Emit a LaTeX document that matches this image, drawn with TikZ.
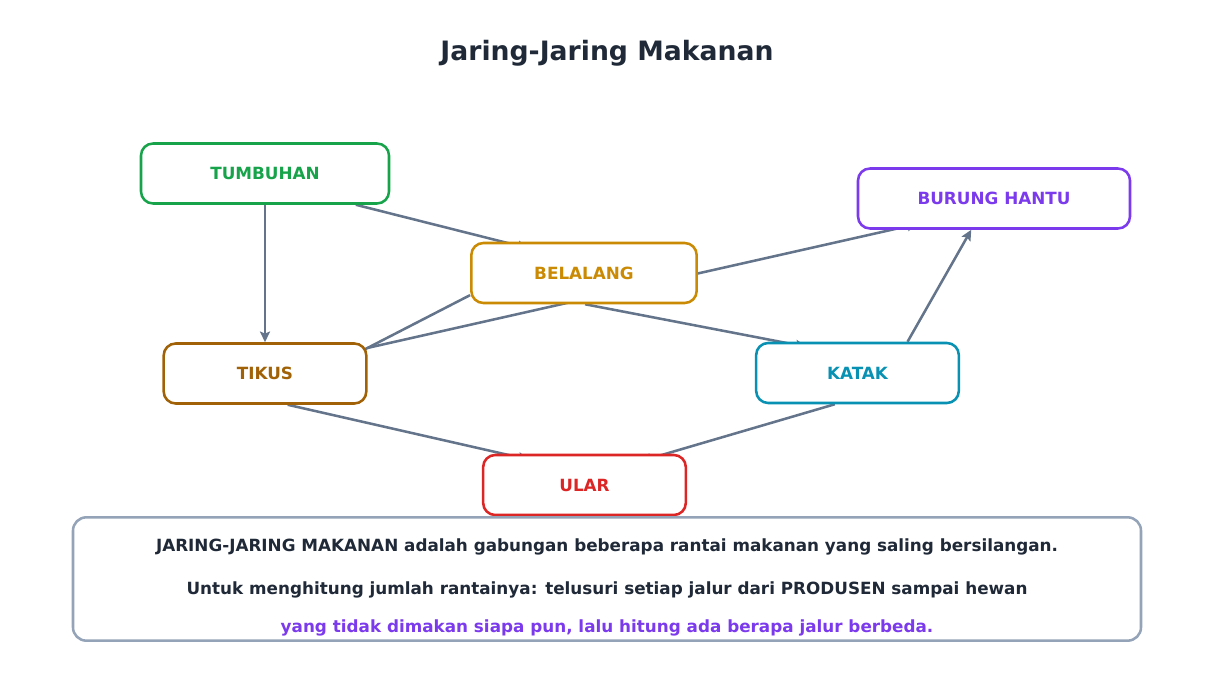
\documentclass[tikz,border=0pt]{standalone}
\usepackage{fontspec}
\setmainfont{DejaVu Sans}
\usetikzlibrary{shapes, arrows.meta, positioning, calc, backgrounds}
\definecolor{judul}{HTML}{1F2937}
\definecolor{hijau}{HTML}{16A34A}
\definecolor{kuning}{HTML}{CA8A04}
\definecolor{coklat}{HTML}{A16207}
\definecolor{tosca}{HTML}{0891B2}
\definecolor{ungu}{HTML}{7C3AED}
\definecolor{merah}{HTML}{DC2626}
\definecolor{garis}{HTML}{64748B}
\definecolor{abu}{HTML}{94A3B8}

\begin{document}
\begin{tikzpicture}[x=0.75pt, y=-0.75pt, node distance=150pt,
    kotak/.style={rectangle, draw, fill=white, rounded corners=9pt, line width=1.9pt, minimum height=45pt, font=\bfseries\fontsize{12.6}{15}\selectfont},
    teks/.style={font=\bfseries\fontsize{12.6}{15}\selectfont, text=judul},
    panah/.style={-{Stealth[length=8pt, width=7.5pt, inset=1.5pt]}, line width=1.9pt, draw=garis},
    tertutup/.style={panah, shorten >=-20pt}]
        \useasboundingbox (0,0) rectangle (1214,698);
        \node[font=\bfseries\fontsize{20}{24}\selectfont, text=judul] (title) at (607,53) {Jaring-Jaring Makanan};

        \node[kotak, draw=hijau, text=hijau, minimum width=186pt] (tumbuhan) at (265,173.5) {TUMBUHAN};
        \node[kotak, draw=coklat, text=coklat, minimum width=152pt, below of=tumbuhan] (tikus) {TIKUS};
        \node[kotak, draw=kuning, text=kuning, minimum width=169pt] (belalang) at (584,273) {BELALANG};
        \node[kotak, draw=ungu, text=ungu, minimum width=204pt] (burung) at (994,198.5) {BURUNG HANTU};
        \node[kotak, draw=tosca, text=tosca, minimum width=152pt] (katak) at (857.5,373) {KATAK};
        \node[kotak, draw=merah, text=merah, minimum width=152pt] (ular) at (584.5,485) {ULAR};

        \node[rectangle, draw=abu, fill=white, rounded corners=10pt, line width=1.9pt, minimum width=801pt, minimum height=92.5pt] (catatan) at (607,579) {};
        \node[teks] (baris1) at (607,547) {JARING-JARING MAKANAN adalah gabungan beberapa rantai makanan yang saling bersilangan.};
        \node[teks] (baris2) at (607,590) {Untuk menghitung jumlah rantainya: telusuri setiap jalur dari PRODUSEN sampai hewan};
        \node[teks, text=ungu] (baris3) at (607,628) {yang tidak dimakan siapa pun, lalu hitung ada berapa jalur berbeda.};

        \begin{scope}[on background layer]
        \draw[panah] (tumbuhan.south) -- (tikus.north);
        \draw[tertutup] (tumbuhan.-19) -- (belalang.159);
        \draw[tertutup] (belalang.191) -- (tikus.14);
        \draw[tertutup] (tikus.14) -- (burung.197);
        \draw[tertutup] (belalang.-88) -- (katak.158);
        \draw[tertutup] (tikus.-54) -- (ular.159);
        \draw[tertutup] (katak.-126) -- (ular.21);
        \draw[panah] (katak.32) -- (burung.234);
        \end{scope}
    \end{tikzpicture}
\end{document}
